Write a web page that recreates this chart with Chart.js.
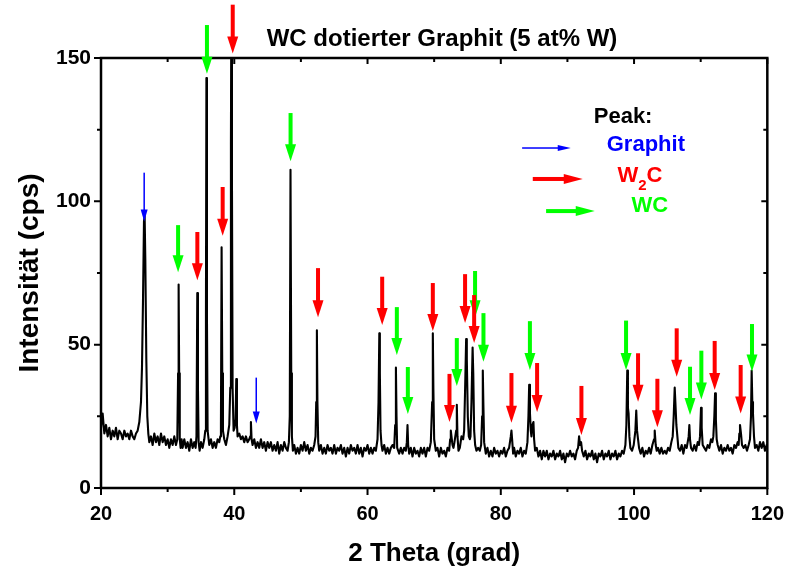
<!DOCTYPE html>
<html><head><meta charset="utf-8">
<script src="https://cdn.jsdelivr.net/npm/chart.js@4"></script>
<style>html,body{margin:0;padding:0;background:#fff}</style>
</head><body>
<canvas id="c" width="790" height="576"></canvas>
<script>
// XRD scan: [2 theta (grad), intensity (cps)]
const xrdScan = [
[20.0,21],[20.25,26],[20.5,19],[20.75,22],[21.0,18],[21.25,21],[21.5,17],[21.75,20],[22.0,18],[22.25,21],
[22.5,17],[22.75,20],[23.0,19],[23.25,17],[23.5,20],[23.75,18],[24.0,19],[24.25,17],[24.5,20],[24.75,18],
[25.0,17],[25.25,19],[25.5,20],[25.75,23],[26.0,30],[26.15,42],[26.3,65],[26.45,93],[26.55,95],[26.65,80],
[26.8,45],[26.95,25],[27.1,19],[27.25,16],[27.5,18],[27.75,15],[28.0,19],[28.25,16],[28.5,18],[28.75,15],
[29.0,19],[29.25,16],[29.5,18],[29.75,15],[30.0,17],[30.25,14],[30.5,17],[30.75,15],[31.0,18],[31.25,15],
[31.45,17],[31.57,40],[31.65,71],[31.73,40],[31.82,17],[31.95,14],[32.1,17],[32.25,14],[32.5,17],[32.75,14],
[33.0,16],[33.25,13],[33.5,17],[33.75,14],[34.0,16],[34.2,14],[34.33,18],[34.45,68],[34.55,35],[34.65,16],
[34.8,13],[35.0,16],[35.25,14],[35.5,17],[35.65,20],[35.75,60],[35.82,143],[35.9,60],[36.0,20],[36.25,15],
[36.5,17],[36.75,14],[37.0,16],[37.25,14],[37.5,17],[37.75,16],[37.9,18],[38.0,22],[38.1,84],[38.2,40],
[38.3,20],[38.5,17],[38.75,15],[39.0,18],[39.25,22],[39.4,35],[39.5,120],[39.56,170],[39.65,110],[39.75,35],
[39.9,20],[40.05,21],[40.2,24],[40.3,38],[40.4,22],[40.5,18],[40.75,19],[41.0,17],[41.25,18],[41.5,16],
[41.75,18],[42.0,16],[42.25,17],[42.4,18],[42.5,23],[42.6,17],[42.75,15],[43.0,17],[43.25,14],[43.5,16],
[43.75,14],[44.0,17],[44.25,14],[44.5,16],[44.75,13],[45.0,16],[45.25,14],[45.5,16],[45.75,13],[46.0,15],
[46.25,13],[46.5,16],[46.75,12],[47.0,15],[47.25,13],[47.5,16],[47.75,14],[48.0,13],[48.2,16],[48.33,25],
[48.44,111],[48.55,40],[48.65,18],[48.8,13],[49.0,15],[49.25,12],[49.5,14],[49.75,12],[50.0,15],[50.25,13],
[50.5,16],[50.75,13],[51.0,15],[51.25,12],[51.5,14],[51.75,13],[52.0,15],[52.2,18],[52.3,30],[52.4,55],
[52.48,30],[52.6,16],[52.75,13],[53.0,15],[53.25,12],[53.5,14],[53.75,12],[54.0,15],[54.25,13],[54.5,14],
[54.75,12],[55.0,15],[55.25,12],[55.5,14],[55.75,13],[56.0,15],[56.25,12],[56.5,14],[56.75,11],[57.0,14],
[57.25,12],[57.5,15],[57.75,13],[58.0,14],[58.25,12],[58.5,15],[58.75,12],[59.0,14],[59.25,11],[59.5,14],
[59.75,13],[60.0,15],[60.25,12],[60.5,14],[60.75,12],[61.0,14],[61.25,13],[61.5,17],[61.65,30],[61.77,54],
[61.85,40],[61.95,20],[62.1,15],[62.25,13],[62.5,15],[62.75,12],[63.0,14],[63.25,12],[63.5,14],[63.75,15],
[64.0,14],[64.15,22],[64.26,42],[64.35,25],[64.45,14],[64.75,12],[65.0,14],[65.25,12],[65.5,14],[65.75,13],
[65.9,16],[66.0,22],[66.1,15],[66.25,12],[66.5,14],[66.75,11],[67.0,14],[67.25,12],[67.5,13],[67.75,11],
[68.0,14],[68.25,12],[68.5,14],[68.75,11],[69.0,14],[69.25,13],[69.5,16],[69.7,30],[69.8,54],[69.88,35],
[70.0,17],[70.25,13],[70.5,14],[70.75,11],[71.0,14],[71.25,12],[71.5,13],[71.75,11],[72.0,14],[72.25,13],
[72.4,17],[72.5,20],[72.6,18],[72.75,15],[72.9,14],[73.05,16],[73.3,20],[73.4,29],[73.5,18],[73.65,13],
[73.85,14],[74.1,18],[74.35,17],[74.5,20],[74.65,35],[74.8,52],[74.9,45],[75.05,25],[75.2,18],[75.35,17],
[75.45,18],[75.6,30],[75.77,49],[75.87,40],[76.0,20],[76.15,15],[76.35,13],[76.6,14],[76.85,13],[77.05,15],
[77.2,25],[77.3,41],[77.38,30],[77.5,16],[77.75,12],[78.0,14],[78.25,11],[78.5,13],[78.75,11],[79.0,14],
[79.25,12],[79.5,13],[79.75,11],[80.0,13],[80.25,12],[80.5,14],[80.75,11],[81.0,13],[81.25,14],[81.5,18],
[81.6,20],[81.7,17],[81.85,12],[82.0,14],[82.25,11],[82.5,13],[82.75,12],[83.0,14],[83.25,11],[83.5,13],
[83.75,12],[84.0,16],[84.15,25],[84.26,36],[84.38,26],[84.5,20],[84.6,18],[84.75,22],[84.9,23],[85.0,17],
[85.15,13],[85.4,14],[85.65,11],[85.9,13],[86.15,10],[86.4,13],[86.65,11],[86.9,13],[87.15,10],[87.4,12],
[87.65,11],[87.9,13],[88.15,10],[88.4,12],[88.65,11],[88.9,13],[89.15,10],[89.4,12],[89.65,9],[89.9,12],
[90.15,11],[90.4,13],[90.65,11],[90.9,12],[91.15,10],[91.4,13],[91.6,14],[91.75,18],[91.9,15],[92.05,16],
[92.2,13],[92.45,11],[92.7,13],[92.95,10],[93.2,12],[93.45,11],[93.7,13],[93.95,10],[94.2,12],[94.45,9],
[94.7,12],[94.95,11],[95.2,13],[95.45,10],[95.7,12],[95.95,11],[96.2,13],[96.45,10],[96.7,12],[96.95,11],
[97.2,13],[97.45,10],[97.7,12],[97.95,11],[98.2,13],[98.45,12],[98.7,15],[98.85,22],[98.98,41],[99.08,28],
[99.18,26],[99.3,18],[99.45,14],[99.7,13],[99.95,15],[100.2,20],[100.33,27],[100.45,20],[100.6,17],[100.75,14],
[101.0,12],[101.25,14],[101.5,11],[101.75,13],[102.0,12],[102.25,14],[102.5,12],[102.75,15],[103.0,17],[103.1,20],
[103.25,15],[103.4,13],[103.6,14],[103.85,12],[104.1,14],[104.35,12],[104.6,13],[104.85,12],[105.1,14],[105.35,13],
[105.6,16],[105.8,18],[105.95,25],[106.1,35],[106.2,30],[106.35,22],[106.5,18],[106.65,14],[106.9,13],[107.15,15],
[107.4,12],[107.65,15],[107.9,14],[108.05,16],[108.2,18],[108.3,22],[108.4,17],[108.55,14],[108.8,13],[109.05,15],
[109.3,13],[109.55,16],[109.75,15],[109.9,18],[110.05,28],[110.15,21],[110.3,15],[110.55,14],[110.8,13],[111.05,15],
[111.3,14],[111.55,17],[111.75,16],[111.9,18],[112.05,25],[112.16,33],[112.28,24],[112.4,17],[112.55,15],[112.8,13],
[113.05,15],[113.3,12],[113.55,14],[113.8,13],[114.05,15],[114.3,13],[114.55,14],[114.8,12],[115.05,15],[115.3,14],
[115.55,16],[115.7,15],[115.8,19],[115.9,22],[116.05,19],[116.2,15],[116.45,14],[116.7,15],[116.95,13],[117.2,15],
[117.4,17],[117.55,25],[117.65,41],[117.75,30],[117.85,26],[118.0,18],[118.15,14],[118.4,15],[118.65,13],[118.9,16],
[119.15,14],[119.4,16],[119.65,13],[119.9,15],[120.0,14]
];

// Peak markers: [2 theta, arrow tip (cps), arrow tail (cps)]
const graphitPeaks = [[26.48,93,110],[43.3,22.5,38.5]];
const wcPeaks = [
[31.57,75.3,91.7],[35.9,144.5,161.5],[48.45,114,130.8],[64.4,46.4,63.1],[66.05,25.8,42.2],
[73.4,35.6,52.3],[76.14,59.6,75.7],[77.4,44,61],[84.37,41.2,58.2],[98.8,41.2,58.4],
[108.4,25.5,42.3],[110.1,30.9,47.9],[117.7,40.6,57.2]
];
const w2cPeaks = [
[34.46,72.5,89.3],[38.26,88,105],[39.77,151.6,168.6],[52.57,59.6,76.7],[62.2,56.9,73.7],
[69.8,54.8,71.5],[72.3,23,39.8],[74.64,57.6,74.6],[76.0,50.6,67.3],[81.6,22.8,40.1],
[85.45,26.5,43.6],[92.1,18.5,35.6],[100.6,30.1,47],[103.5,21.2,38.1],[106.4,38.8,55.7],
[112.1,34.2,51.3],[116.0,26,42.9]
];

// Legend arrows: [x start, x end, y] in data units
const legendArrows = {graphit:[83.2,90.5,118.6], w2c:[84.8,92.3,107.8], wc:[86.8,94.1,96.6]};

const xMajor = [20,40,60,80,100,120];
const xMinor = [30,50,70,90,110];
const yMajor = [0,50,100,150];
const yMinor = [25,75,125];

const titleText = 'WC dotierter Graphit (5 at% W)';
const xTitle = '2 Theta (grad)';
const yTitle = 'Intensität (cps)';

const FONT = "'Liberation Sans', Arial, Helvetica, sans-serif";
const BLUE = '#0000ff', RED = '#ff0000', GREEN = '#00ff00';

function arrowDown(ctx, px, tipY, topY, color, thin) {
  const headL = thin ? 12 : 17, headW = thin ? 3.5 : 5.5, shaft = thin ? 1.5 : 4;
  ctx.fillStyle = color;
  ctx.fillRect(px - shaft/2, topY, shaft, (tipY - headL) - topY + 1);
  ctx.beginPath();
  ctx.moveTo(px - headW, tipY - headL);
  ctx.lineTo(px + headW, tipY - headL);
  ctx.lineTo(px, tipY);
  ctx.closePath();
  ctx.fill();
}
function arrowRight(ctx, x0, x1, y, color, thin) {
  const headL = thin ? 13 : 19, headW = thin ? 3 : 5, shaft = thin ? 1.5 : 4;
  ctx.fillStyle = color;
  ctx.fillRect(x0, y - shaft/2, (x1 - headL) - x0 + 1, shaft);
  ctx.beginPath();
  ctx.moveTo(x1 - headL, y - headW);
  ctx.lineTo(x1 - headL, y + headW);
  ctx.lineTo(x1, y);
  ctx.closePath();
  ctx.fill();
}

const decor = {
  id: 'decor',
  afterDraw(chart) {
    const ctx = chart.ctx, a = chart.chartArea;
    const xs = chart.scales.x, ys = chart.scales.y;
    ctx.save();
    // frame
    ctx.strokeStyle = '#000'; ctx.lineWidth = 2.5;
    ctx.strokeRect(a.left, a.top, a.right - a.left, a.bottom - a.top);
    ctx.lineWidth = 2;
    ctx.beginPath();
    xMajor.forEach(v => { const p = xs.getPixelForValue(v);
      ctx.moveTo(p, a.bottom); ctx.lineTo(p, a.bottom + 7);
      ctx.moveTo(p, a.top); ctx.lineTo(p, a.top + 6); });
    xMinor.forEach(v => { const p = xs.getPixelForValue(v);
      ctx.moveTo(p, a.bottom); ctx.lineTo(p, a.bottom + 4);
      ctx.moveTo(p, a.top); ctx.lineTo(p, a.top + 4); });
    yMajor.forEach(v => { const p = ys.getPixelForValue(v);
      ctx.moveTo(a.left, p); ctx.lineTo(a.left - 7, p);
      ctx.moveTo(a.right, p); ctx.lineTo(a.right - 6, p); });
    yMinor.forEach(v => { const p = ys.getPixelForValue(v);
      ctx.moveTo(a.left, p); ctx.lineTo(a.left - 4, p);
      ctx.moveTo(a.right, p); ctx.lineTo(a.right - 4, p); });
    ctx.stroke();

    // peak arrows
    wcPeaks.forEach(p => arrowDown(ctx, xs.getPixelForValue(p[0]), ys.getPixelForValue(p[1]), ys.getPixelForValue(p[2]), GREEN, false));
    w2cPeaks.forEach(p => arrowDown(ctx, xs.getPixelForValue(p[0]), ys.getPixelForValue(p[1]), ys.getPixelForValue(p[2]), RED, false));
    graphitPeaks.forEach(p => arrowDown(ctx, xs.getPixelForValue(p[0]), ys.getPixelForValue(p[1]), ys.getPixelForValue(p[2]), BLUE, true));

    // legend
    const L = legendArrows;
    arrowRight(ctx, xs.getPixelForValue(L.graphit[0]), xs.getPixelForValue(L.graphit[1]), ys.getPixelForValue(L.graphit[2]), BLUE, true);
    arrowRight(ctx, xs.getPixelForValue(L.w2c[0]), xs.getPixelForValue(L.w2c[1]), ys.getPixelForValue(L.w2c[2]), RED, false);
    arrowRight(ctx, xs.getPixelForValue(L.wc[0]), xs.getPixelForValue(L.wc[1]), ys.getPixelForValue(L.wc[2]), GREEN, false);
    ctx.textBaseline = 'alphabetic'; ctx.textAlign = 'left';
    ctx.font = 'bold 22px ' + FONT;
    ctx.fillStyle = '#000';
    ctx.fillText('Peak:', xs.getPixelForValue(93.95), ys.getPixelForValue(127.4));
    ctx.fillStyle = BLUE;
    ctx.fillText('Graphit', xs.getPixelForValue(95.9), ys.getPixelForValue(117.5));
    ctx.fillStyle = RED;
    const wx = xs.getPixelForValue(97.5), wy = ys.getPixelForValue(106.8);
    ctx.fillText('W', wx, wy);
    const ww = ctx.measureText('W').width;
    ctx.font = 'bold 15px ' + FONT;
    ctx.fillText('2', wx + ww, wy + 8);
    const w2 = ctx.measureText('2').width;
    ctx.font = 'bold 22px ' + FONT;
    ctx.fillText('C', wx + ww + w2, wy);
    ctx.fillStyle = GREEN;
    ctx.fillText('WC', xs.getPixelForValue(99.6), ys.getPixelForValue(96.4));

    // titles
    ctx.fillStyle = '#000';
    ctx.textAlign = 'center';
    ctx.font = 'bold 24px ' + FONT;
    ctx.fillText(titleText, 442, 46);
    ctx.font = 'bold 26px ' + FONT;
    ctx.fillText(xTitle, (a.left + a.right) / 2, 561);
    ctx.save();
    ctx.translate(38, (a.top + a.bottom) / 2);
    ctx.rotate(-Math.PI / 2);
    ctx.font = 'bold 28px ' + FONT;
    ctx.fillText(yTitle, 0, 0);
    ctx.restore();
    ctx.restore();
  }
};

new Chart(document.getElementById('c'), {
  type: 'scatter',
  data: { datasets: [{
    data: xrdScan.map(p => ({ x: p[0], y: p[1] })),
    showLine: true, borderColor: '#000', borderWidth: 2.1,
    borderJoinStyle: 'round', borderCapStyle: 'round',
    pointRadius: 0, tension: 0, fill: false
  }]},
  options: {
    responsive: false, animation: false, events: [],
    layout: { padding: { top: 58, right: 17, left: 0, bottom: 0 } },
    plugins: { legend: { display: false }, tooltip: { enabled: false }, title: { display: false } },
    scales: {
      x: {
        type: 'linear', min: 20, max: 120,
        afterBuildTicks(s) { s.ticks = xMajor.map(v => ({ value: v })); },
        ticks: { font: { family: FONT, size: 20, weight: 'bold' }, color: '#000', padding: 6, maxRotation: 0, autoSkip: false },
        grid: { display: false }, border: { display: false },
        afterFit(s) { s.height = 88; }
      },
      y: {
        type: 'linear', min: 0, max: 150,
        afterBuildTicks(s) { s.ticks = yMajor.map(v => ({ value: v })); },
        ticks: { font: { family: FONT, size: 21, weight: 'bold' }, color: '#000', padding: 2, autoSkip: false },
        grid: { display: false }, border: { display: false },
        afterFit(s) { s.width = 101; }
      }
    }
  },
  plugins: [decor]
});
</script>
</body></html>
